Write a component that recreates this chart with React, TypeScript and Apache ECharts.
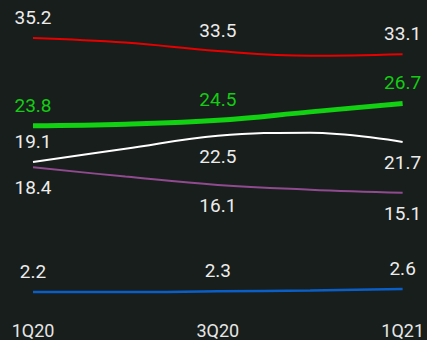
import React, { useEffect, useRef } from "react";
import * as echarts from "echarts";

const categories = ["1Q20", "2Q20", "3Q20", "4Q20", "1Q21"];
const redValues = [35.2, 34.6, 33.5, 32.9, 33.1];
const greenValues = [23.8, 24.0, 24.5, 25.6, 26.7];
const whiteValues = [19.1, 20.8, 22.5, 22.9, 21.7];
const purpleValues = [18.4, 17.2, 16.1, 15.5, 15.1];
const blueValues = [2.2, 2.2, 2.3, 2.4, 2.6];

// label placement per point ("top" / "bottom")
const redPos = ["top", "top", "top", "top", "top"];
const greenPos = ["top", "top", "top", "top", "top"];
const whitePos = ["top", "top", "bottom", "bottom", "bottom"];
const purplePos = ["bottom", "bottom", "bottom", "bottom", "bottom"];
const bluePos = ["top", "top", "top", "top", "top"];

const FONT = "Roboto, 'Noto Sans', sans-serif";

function mkSeries(
  name: string,
  values: number[],
  pos: string[],
  color: string,
  width: number,
  labelColor: string
) {
  return {
    name,
    type: "line",
    smooth: 0.4,
    symbol: "circle",
    symbolSize: 0,
    showSymbol: true,
    lineStyle: { color, width },
    itemStyle: { color },
    label: {
      show: true,
      distance: 11,
      color: labelColor,
      fontSize: 19,
      fontFamily: FONT,
      formatter: (p: any) => (p.dataIndex % 2 === 0 ? String(p.value) : ""),
    },
    data: values.map((v, i) => ({ value: v, label: { position: pos[i] } })),
  };
}

export default function App() {
  const ref = useRef<HTMLDivElement>(null);
  useEffect(() => {
    if (!ref.current) return;
    const chart = echarts.init(ref.current, undefined, { renderer: "svg" });
    chart.setOption({
      animation: false,
      backgroundColor: "#181e1b",
      grid: { left: 33, right: 18, top: 1, bottom: 31, containLabel: false },
      xAxis: {
        type: "category",
        data: categories,
        boundaryGap: false,
        axisLine: { show: false },
        axisTick: { show: false },
        splitLine: { show: false },
        axisLabel: {
          interval: 1,
          color: "#e6e6e6",
          fontSize: 18,
          fontFamily: FONT,
          margin: 12,
        },
      },
      yAxis: {
        type: "value",
        min: 0,
        max: 40,
        show: false,
        splitLine: { show: false },
      },
      series: [
        mkSeries("red", redValues, redPos, "#e60000", 2, "#ececec"),
        mkSeries("green", greenValues, greenPos, "#12d012", 5, "#14cc14"),
        mkSeries("white", whiteValues, whitePos, "#ffffff", 2, "#ececec"),
        mkSeries("purple", purpleValues, purplePos, "#904a90", 2, "#ececec"),
        mkSeries("blue", blueValues, bluePos, "#0a5ec8", 2.5, "#ececec"),
      ],
    });
    return () => chart.dispose();
  }, []);
  return (
    <div
      ref={ref}
      style={{ position: "fixed", left: 0, top: 0, width: 427, height: 340 }}
    />
  );
}
